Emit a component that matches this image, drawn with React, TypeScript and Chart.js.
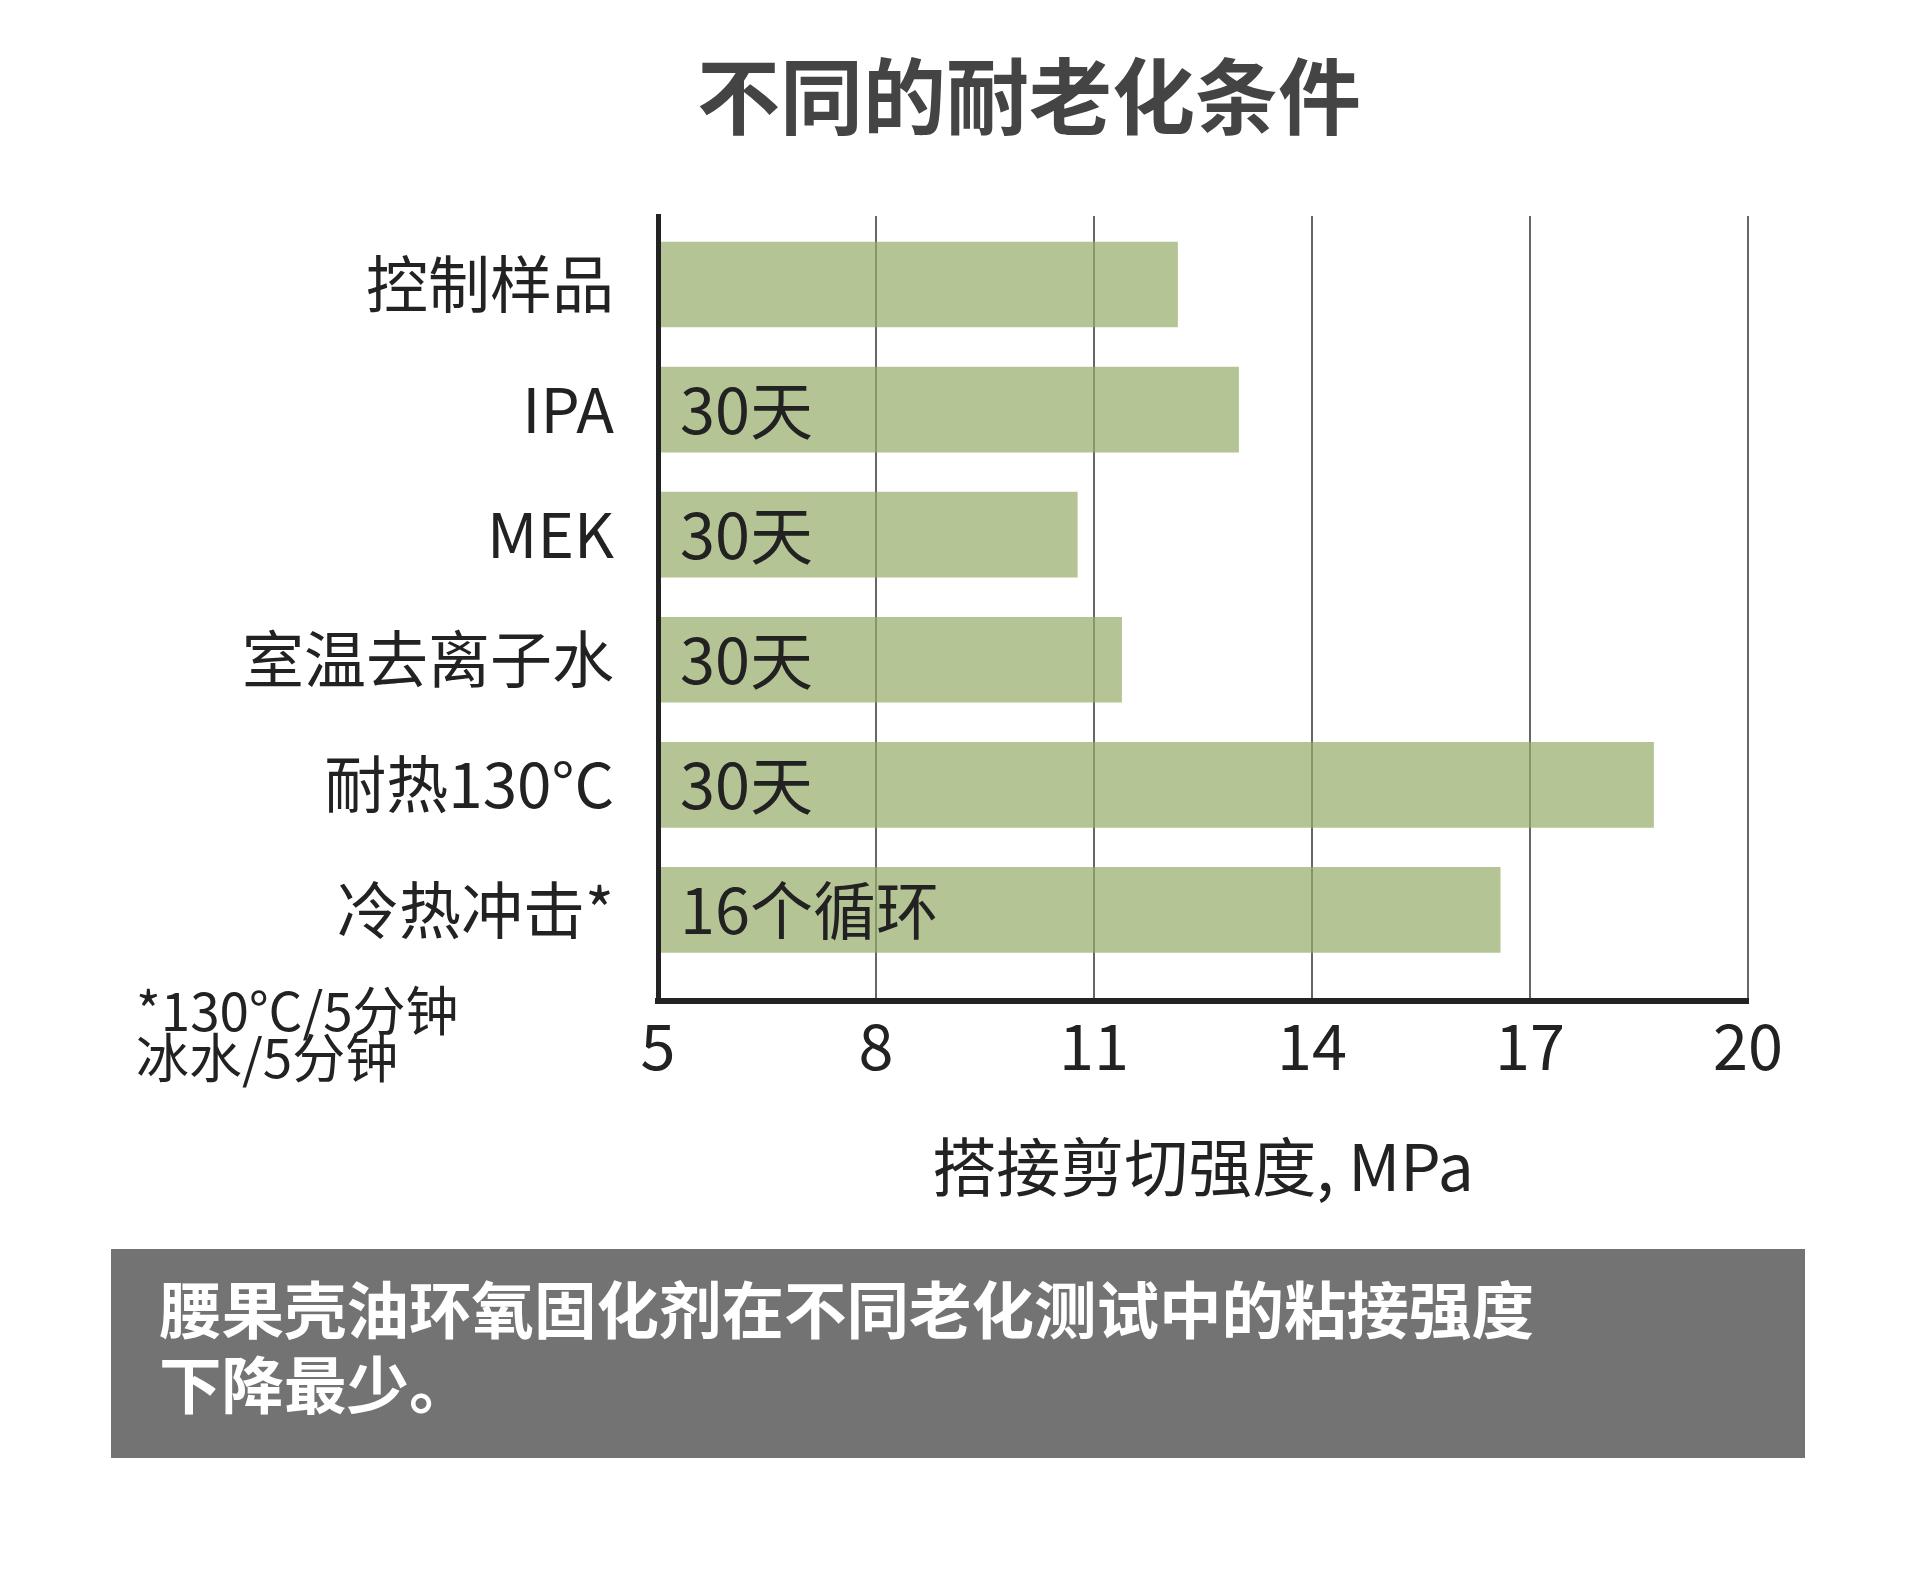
import React, { useEffect, useRef } from 'react';
import { Chart, registerables } from 'chart.js';

Chart.register(...registerables);

const chartTitle = '不同的耐老化条件';
const categories = ['控制样品', 'IPA', 'MEK', '室温去离子水', '耐热130°C', '冷热冲击*'];
const strengthMPa = [12.15, 12.99, 10.77, 11.38, 18.7, 16.59];
const barNotes = ['', '30天', '30天', '30天', '30天', '16个循环'];
const xTicks = [5, 8, 11, 14, 17, 20];
const xAxisTitle = '搭接剪切强度, MPa';
const footnoteLines = ['*130°C/5分钟', '冰水/5分钟'];
const captionLines = ['腰果壳油环氧固化剂在不同老化测试中的粘接强度', '下降最少。'];

const FONT = '"Noto Sans CJK SC", "Noto Sans", sans-serif';

const barNotesPlugin = {
  id: 'barNotes',
  afterDatasetsDraw(chart: any) {
    const meta = chart.getDatasetMeta(0);
    const ctx = chart.ctx;
    ctx.save();
    ctx.font = `63px ${FONT}`;
    ctx.fillStyle = '#222222';
    ctx.textBaseline = 'middle';
    ctx.textAlign = 'left';
    meta.data.forEach((bar: any, i: number) => {
      if (barNotes[i]) ctx.fillText(barNotes[i], chart.chartArea.left + 22, bar.y);
    });
    ctx.restore();
  },
};

export default function App() {
  const canvasRef = useRef<HTMLCanvasElement | null>(null);

  useEffect(() => {
    const canvas = canvasRef.current;
    if (!canvas) return;
    const chart = new Chart(canvas, {
      type: 'bar',
      data: {
        datasets: [
          {
            data: strengthMPa.map((v, i) => ({ x: v, y: i })) as any,
            backgroundColor: 'rgba(151,172,105,0.71)',
            borderWidth: 0,
            barThickness: 85,
          },
        ],
      },
      options: {
        indexAxis: 'y',
        responsive: false,
        animation: false,
        devicePixelRatio: 1,
        layout: { padding: { top: 216, right: 168, bottom: 0, left: 0 } },
        plugins: {
          legend: { display: false },
          tooltip: { enabled: false },
          title: { display: false },
        },
        scales: {
          x: {
            type: 'linear',
            position: 'bottom',
            min: 5,
            max: 20,
            offset: false,
            afterBuildTicks: (axis: any) => {
              axis.ticks = xTicks.map((v) => ({ value: v }));
            },
            ticks: {
              font: { family: FONT, size: 63 },
              color: '#222222',
              padding: 7,
              maxRotation: 0,
              autoSkip: false,
            },
            grid: { color: '#666666', lineWidth: 2, drawTicks: false, offset: false },
            border: { display: true, color: '#222222', width: 6, z: 1 },
            title: {
              display: true,
              text: xAxisTitle,
              font: { family: FONT, size: 64 },
              color: '#222222',
              padding: { top: 0, bottom: 35 },
            },
            afterFit: (axis: any) => {
              axis.height = 239;
            },
          },
          y: {
            type: 'linear',
            reverse: true,
            offset: false,
            min: -0.548,
            max: 5.728,
            afterBuildTicks: (axis: any) => {
              axis.ticks = categories.map((_, i) => ({ value: i }));
            },
            ticks: {
              callback: (v: any) => categories[v as number] ?? '',
              font: { family: FONT, size: 62 },
              color: '#222222',
              padding: 44,
              autoSkip: false,
            },
            grid: { display: false, drawTicks: false, offset: false },
            border: { display: true, color: '#222222', width: 5, z: 1 },
            afterFit: (axis: any) => {
              axis.width = 658;
            },
          },
        },
      } as any,
      plugins: [barNotesPlugin],
    });
    return () => chart.destroy();
  }, []);

  return (
    <div style={{ position: 'absolute', left: 0, top: 0, width: 1916, height: 1583, background: '#ffffff', fontFamily: FONT }}>
      <div
        style={{
          position: 'absolute',
          left: 1029,
          top: 51,
          transform: 'translateX(-50%)',
          fontSize: 83,
          lineHeight: '83px',
          fontWeight: 700,
          color: '#444444',
          whiteSpace: 'nowrap',
        }}
      >
        {chartTitle}
      </div>
      <canvas
        ref={canvasRef}
        width={1916}
        height={1240}
        style={{ position: 'absolute', left: 0, top: 0, width: 1916, height: 1240, display: 'block' }}
      />
      <div
        style={{
          position: 'absolute',
          left: 136,
          top: 985,
          fontSize: 53,
          lineHeight: '47px',
          color: '#222222',
          whiteSpace: 'nowrap',
        }}
      >
        {footnoteLines.map((l, i) => (
          <div key={i}>{l}</div>
        ))}
      </div>
      <div
        style={{
          position: 'absolute',
          left: 111,
          top: 1249,
          width: 1694,
          height: 209,
          background: '#737373',
          boxSizing: 'border-box',
          paddingLeft: 48,
          paddingTop: 20,
          color: '#ffffff',
          fontSize: 62.5,
          lineHeight: '75px',
          fontWeight: 700,
          whiteSpace: 'nowrap',
        }}
      >
        {captionLines.map((l, i) => (
          <div key={i}>{l}</div>
        ))}
      </div>
    </div>
  );
}
